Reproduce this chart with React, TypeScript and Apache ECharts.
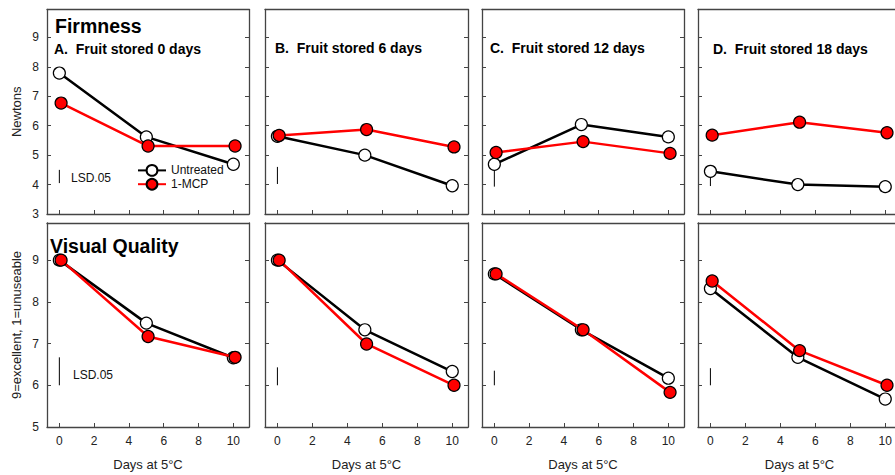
import React, { useEffect, useRef } from 'react';
import * as echarts from 'echarts';

// ---- data ----
const DAYS_UNTREATED = [0, 5, 10];
const DAYS_MCP = [0.1, 5.1, 10.1];
const TICKS_X = [0, 2, 4, 6, 8, 10];
const TICKS_FIRM = [3, 4, 5, 6, 7, 8, 9];
const TICKS_VQ = [5, 6, 7, 8, 9];

const PANEL_TITLES = [
  'A.  Fruit stored 0 days',
  'B.  Fruit stored 6 days',
  'C.  Fruit stored 12 days',
  'D.  Fruit stored 18 days',
];

const FIRM_UNTREATED = [
  [7.79, 5.62, 4.69],
  [5.64, 5.0, 3.96],
  [4.69, 6.04, 5.62],
  [4.45, 4.0, 3.93],
];
const FIRM_MCP = [
  [6.77, 5.31, 5.31],
  [5.67, 5.87, 5.28],
  [5.09, 5.46, 5.06],
  [5.68, 6.12, 5.76],
];
const VQ_UNTREATED = [
  [9.0, 7.49, 6.66],
  [9.0, 7.33, 6.33],
  [8.67, 7.33, 6.17],
  [8.32, 6.67, 5.67],
];
const VQ_MCP = [
  [9.0, 7.17, 6.67],
  [9.0, 6.99, 6.0],
  [8.67, 7.33, 5.83],
  [8.5, 6.83, 6.0],
];
const LSD_FIRM = [
  [4.05, 4.5],
  [4.02, 4.6],
  [3.93, 4.6],
  [3.95, 4.45],
];
const LSD_VQ = [
  [6.0, 6.67],
  [6.0, 6.43],
  [6.0, 6.35],
  [6.0, 6.41],
];

// ---- layout ----
const FONT = '"Liberation Sans", Arial, Helvetica, sans-serif';
const COL_LEFT = [47, 265, 482, 698];
const COL_WIDTH = [202, 203, 202, 203];
const ROW_TOP = [9.5, 223];
const ROW_HEIGHT = [204.5, 204];
const Y_RANGE = [
  [3, 9.95],
  [5, 9.89],
];
const X_RANGE = [-0.71, 10.9];
const FRAME = '#444';
const FRAME_W = 1.3;

function buildOption() {
  const grid: any[] = [];
  const xAxis: any[] = [];
  const xAxisTop: any[] = [];
  const yAxis: any[] = [];
  const series: any[] = [];

  for (let r = 0; r < 2; r++) {
    for (let c = 0; c < 4; c++) {
      const i = r * 4 + c;
      grid.push({
        left: COL_LEFT[c],
        top: ROW_TOP[r],
        width: COL_WIDTH[c],
        height: ROW_HEIGHT[r],
        show: false,
        containLabel: false,
        outerBoundsMode: 'none',
      });
      xAxis.push({
        gridIndex: i,
        type: 'value',
        position: 'bottom',
        min: X_RANGE[0],
        max: X_RANGE[1],
        axisLine: { show: true, onZero: false, lineStyle: { color: FRAME, width: FRAME_W } },
        axisTick: { show: true, inside: true, length: 4, customValues: TICKS_X, lineStyle: { color: FRAME, width: 1 } },
        axisLabel: { show: r === 1, customValues: TICKS_X, margin: 8, fontSize: 12, color: '#222', fontFamily: FONT },
        splitLine: { show: false },
        name: r === 1 ? 'Days at 5°C' : '',
        nameLocation: 'middle',
        nameGap: 31,
        nameTextStyle: { fontSize: 13, color: '#222', fontFamily: FONT },
      });
      xAxisTop.push({
        gridIndex: i,
        type: 'value',
        position: 'top',
        min: X_RANGE[0],
        max: X_RANGE[1],
        axisLine: { show: true, onZero: false, lineStyle: { color: FRAME, width: FRAME_W } },
        axisTick: { show: false },
        axisLabel: { show: false },
        splitLine: { show: false },
      });
      const ticks = r === 0 ? TICKS_FIRM : TICKS_VQ;
      const common = {
        gridIndex: i,
        type: 'value',
        min: Y_RANGE[r][0],
        max: Y_RANGE[r][1],
        splitLine: { show: false },
        axisLine: { show: true, onZero: false, lineStyle: { color: FRAME, width: FRAME_W } },
        axisTick: { show: true, inside: true, length: 4, customValues: ticks, lineStyle: { color: FRAME, width: 1 } },
      };
      yAxis.push({
        ...common,
        position: 'left',
        axisLabel: { show: c === 0, customValues: ticks, margin: 8, fontSize: 12, color: '#222', fontFamily: FONT },
        name: c === 0 ? (r === 0 ? 'Newtons' : '9=excellent, 1=unuseable') : '',
        nameLocation: 'middle',
        nameGap: 24,
        nameTextStyle: { fontSize: 13, color: '#222', fontFamily: FONT },
      });
      yAxis.push({
        ...common,
        position: 'right',
        axisLabel: { show: false },
      });

      const unt = r === 0 ? FIRM_UNTREATED[c] : VQ_UNTREATED[c];
      const mcp = r === 0 ? FIRM_MCP[c] : VQ_MCP[c];
      const lsd = r === 0 ? LSD_FIRM[c] : LSD_VQ[c];

      series.push({
        type: 'line',
        name: 'LSD',
        xAxisIndex: i,
        yAxisIndex: 2 * i,
        data: [[0, lsd[0]], [0, lsd[1]]],
        symbol: 'none',
        lineStyle: { color: '#000', width: 1 },
        silent: true,
        z: 1,
      });
      series.push({
        type: 'line',
        name: 'Untreated',
        xAxisIndex: i,
        yAxisIndex: 2 * i,
        data: DAYS_UNTREATED.map((d, k) => [d, unt[k]]),
        symbol: 'circle',
        symbolSize: 12,
        lineStyle: { color: '#000', width: 2.5 },
        itemStyle: { color: '#fff', borderColor: '#000', borderWidth: 1.2 },
        z: 2,
      });
      series.push({
        type: 'line',
        name: '1-MCP',
        xAxisIndex: i,
        yAxisIndex: 2 * i,
        data: DAYS_MCP.map((d, k) => [d, mcp[k]]),
        symbol: 'circle',
        symbolSize: 12,
        lineStyle: { color: '#ff0000', width: 2.5 },
        itemStyle: { color: '#ff0000', borderColor: '#000', borderWidth: 1.2 },
        z: 3,
      });
    }
  }

  const titleX = [54, 275, 490, 713];
  const titleY = [49, 48, 48, 48.5];
  const graphic: any[] = [
    {
      type: 'text',
      x: 55,
      y: 26,
      style: { text: 'Firmness', font: `bold 19.5px ${FONT}`, fill: '#000', verticalAlign: 'middle' },
    },
    {
      type: 'text',
      x: 50,
      y: 246,
      style: { text: 'Visual Quality', font: `bold 19.5px ${FONT}`, fill: '#000', verticalAlign: 'middle' },
    },
    {
      type: 'text',
      x: 71,
      y: 178,
      style: { text: 'LSD.05', font: `12px ${FONT}`, fill: '#111', verticalAlign: 'middle' },
    },
    {
      type: 'text',
      x: 73,
      y: 375,
      style: { text: 'LSD.05', font: `12px ${FONT}`, fill: '#111', verticalAlign: 'middle' },
    },
  ];
  PANEL_TITLES.forEach((t, c) => {
    graphic.push({
      type: 'text',
      x: titleX[c],
      y: titleY[c],
      style: { text: t, font: `bold 14px ${FONT}`, fill: '#000', verticalAlign: 'middle' },
    });
  });

  return {
    animation: false,
    backgroundColor: '#fff',
    textStyle: { fontFamily: FONT },
    legend: {
      data: ['Untreated', '1-MCP'],
      orient: 'vertical',
      left: 137,
      top: 164,
      itemWidth: 28,
      itemHeight: 13.5,
      itemGap: 1,
      padding: 0,
      textStyle: { fontSize: 12, color: '#111', fontFamily: FONT },
      selectedMode: false,
    },
    grid,
    xAxis: [...xAxis, ...xAxisTop],
    yAxis,
    series,
    graphic,
  };
}

export default function App() {
  const ref = useRef<HTMLDivElement>(null);
  useEffect(() => {
    if (!ref.current) return;
    const chart = echarts.init(ref.current, null, { renderer: 'svg' });
    chart.setOption(buildOption() as any);
    return () => chart.dispose();
  }, []);
  return (
    <div
      ref={ref}
      style={{ position: 'fixed', left: 0, top: 0, width: 895, height: 475, background: '#fff' }}
    />
  );
}
